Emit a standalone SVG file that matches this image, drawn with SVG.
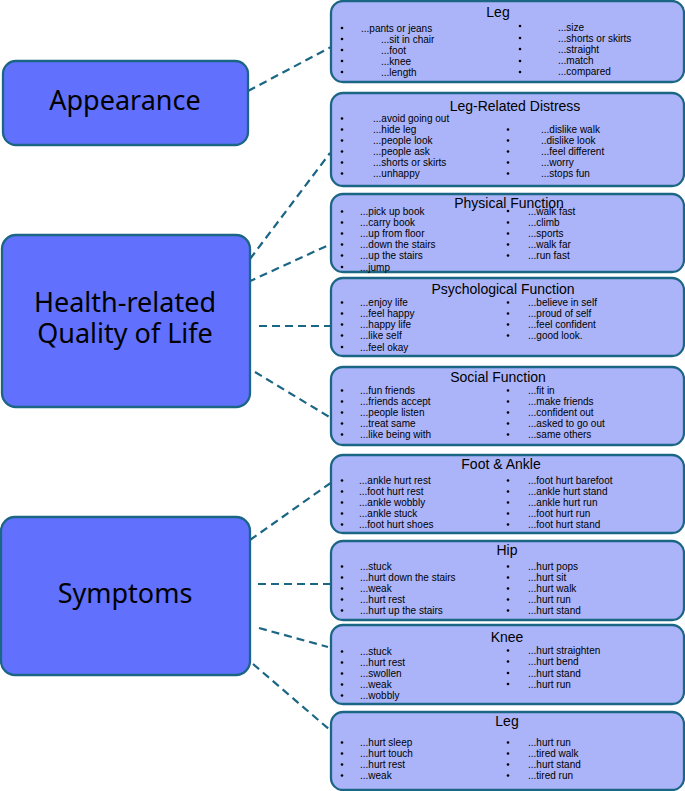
<svg xmlns="http://www.w3.org/2000/svg" width="685" height="791" viewBox="0 0 685 791">
<style>
.main{fill:#6171FE;stroke:#1B6585;stroke-width:2.3}
.sub{fill:#ABB4F9;stroke:#1B6585;stroke-width:2.3}
.big{font-family:"Noto Sans","Liberation Sans",sans-serif;font-size:27px;fill:#000;text-anchor:middle}
.ttl{font-family:"Liberation Sans",Arial,sans-serif;font-size:14px;fill:#000;text-anchor:middle}
.it{font-family:"Liberation Sans",Arial,sans-serif;font-size:10px;fill:#000}
.con line{stroke:#1B6585;stroke-width:2.2;stroke-dasharray:8 5;fill:none}
.b circle{fill:#000}
</style>
<rect width="685" height="791" fill="#fff"/>

<g id="connectors" class="con">
<line x1="248" y1="91" x2="331" y2="47"/>
<line x1="250" y1="259" x2="330" y2="153"/>
<line x1="248" y1="282" x2="331" y2="244"/>
<line x1="259" y1="326" x2="340" y2="326"/>
<line x1="255" y1="372" x2="331" y2="418"/>
<line x1="250" y1="540" x2="332" y2="482"/>
<line x1="258" y1="584" x2="340" y2="584"/>
<line x1="259" y1="628" x2="328" y2="647"/>
<line x1="253" y1="664" x2="330" y2="730"/>
</g>

<g id="appearance">
<rect class="main" x="3" y="61" width="245" height="84" rx="13"/>
<text class="big" x="125" y="110">Appearance</text>
</g>
<g id="hrqol">
<rect class="main" x="2" y="235" width="248" height="172" rx="14"/>
<text class="big" x="125" y="312">Health-related</text>
<text class="big" x="125" y="343">Quality of Life</text>
</g>
<g id="symptoms">
<rect class="main" x="1" y="517" width="249" height="158" rx="14"/>
<text class="big" x="125" y="603">Symptoms</text>
</g>

<g id="leg-appearance">
<rect class="sub" x="331" y="1" width="353" height="81" rx="12"/>
<text class="ttl" x="498" y="17">Leg</text>
<g class="b">
<circle cx="342" cy="28" r="1.3"/><circle cx="342" cy="39" r="1.3"/><circle cx="342" cy="50" r="1.3"/><circle cx="342" cy="61" r="1.3"/><circle cx="342" cy="72" r="1.3"/>
<circle cx="520" cy="26" r="1.3"/><circle cx="520" cy="38" r="1.3"/><circle cx="520" cy="49" r="1.3"/><circle cx="520" cy="61" r="1.3"/><circle cx="520" cy="72" r="1.3"/>
</g>
<text class="it" x="361" y="32">...pants or jeans</text>
<text class="it" x="381" y="43">...sit in chair</text>
<text class="it" x="381" y="54">...foot</text>
<text class="it" x="381" y="65">...knee</text>
<text class="it" x="381" y="76">...length</text>
<text class="it" x="558" y="31">...size</text>
<text class="it" x="558" y="42">...shorts or skirts</text>
<text class="it" x="558" y="53">...straight</text>
<text class="it" x="558" y="64">...match</text>
<text class="it" x="558" y="75">...compared</text>
</g>

<g id="leg-related-distress">
<rect class="sub" x="331" y="93" width="353" height="93" rx="12"/>
<text class="ttl" x="515" y="111">Leg-Related Distress</text>
<g class="b">
<circle cx="342" cy="118.5" r="1.3"/><circle cx="342" cy="129.5" r="1.3"/><circle cx="342" cy="140.5" r="1.3"/><circle cx="342" cy="151.5" r="1.3"/><circle cx="342" cy="162.5" r="1.3"/><circle cx="342" cy="173.5" r="1.3"/>
<circle cx="508" cy="129.5" r="1.3"/><circle cx="508" cy="140.5" r="1.3"/><circle cx="508" cy="151.5" r="1.3"/><circle cx="508" cy="162.5" r="1.3"/><circle cx="508" cy="173.5" r="1.3"/>
</g>
<text class="it" x="373" y="122">...avoid going out</text>
<text class="it" x="373" y="133">...hide leg</text>
<text class="it" x="373" y="144">...people look</text>
<text class="it" x="373" y="155">...people ask</text>
<text class="it" x="373" y="166">...shorts or skirts</text>
<text class="it" x="373" y="177">...unhappy</text>
<text class="it" x="541" y="133">...dislike walk</text>
<text class="it" x="541" y="144">..dislike look</text>
<text class="it" x="541" y="155">...feel different</text>
<text class="it" x="541" y="166">...worry</text>
<text class="it" x="541" y="177">...stops fun</text>
</g>

<g id="physical-function">
<rect class="sub" x="331" y="194" width="353" height="78" rx="12"/>
<text class="ttl" x="509" y="208">Physical Function</text>
<g class="b">
<circle cx="342" cy="211.5" r="1.3"/><circle cx="342" cy="222.5" r="1.3"/><circle cx="342" cy="233.5" r="1.3"/><circle cx="342" cy="244.5" r="1.3"/><circle cx="342" cy="255.5" r="1.3"/><circle cx="342" cy="267" r="1.3"/>
<circle cx="508" cy="211" r="1.3"/><circle cx="508" cy="222.5" r="1.3"/><circle cx="508" cy="233.5" r="1.3"/><circle cx="508" cy="244.5" r="1.3"/><circle cx="508" cy="255.5" r="1.3"/>
</g>
<text class="it" x="360" y="215">...pick up book</text>
<text class="it" x="360" y="226">...carry book</text>
<text class="it" x="360" y="237">...up from floor</text>
<text class="it" x="360" y="248">...down the stairs</text>
<text class="it" x="360" y="259">...up the stairs</text>
<text class="it" x="360" y="271">...jump</text>
<text class="it" x="528" y="215">...walk fast</text>
<text class="it" x="528" y="226">...climb</text>
<text class="it" x="528" y="237">...sports</text>
<text class="it" x="528" y="248">...walk far</text>
<text class="it" x="528" y="259">...run fast</text>
</g>

<g id="psychological-function">
<rect class="sub" x="331" y="278" width="353" height="78" rx="12"/>
<text class="ttl" x="503" y="294">Psychological Function</text>
<g class="b">
<circle cx="342" cy="302.5" r="1.3"/><circle cx="342" cy="313.5" r="1.3"/><circle cx="342" cy="324.5" r="1.3"/><circle cx="342" cy="335.5" r="1.3"/><circle cx="342" cy="347" r="1.3"/>
<circle cx="508" cy="302.5" r="1.3"/><circle cx="508" cy="313.5" r="1.3"/><circle cx="508" cy="324.5" r="1.3"/><circle cx="508" cy="335.5" r="1.3"/>
</g>
<text class="it" x="360" y="306">...enjoy life</text>
<text class="it" x="360" y="317">...feel happy</text>
<text class="it" x="360" y="328">...happy life</text>
<text class="it" x="360" y="339">...like self</text>
<text class="it" x="360" y="351">...feel okay</text>
<text class="it" x="528" y="306">...believe in self</text>
<text class="it" x="528" y="317">...proud of self</text>
<text class="it" x="528" y="328">...feel confident</text>
<text class="it" x="528" y="339">...good look.</text>
</g>

<g id="social-function">
<rect class="sub" x="331" y="367" width="353" height="78" rx="12"/>
<text class="ttl" x="498" y="382">Social Function</text>
<g class="b">
<circle cx="342" cy="390.5" r="1.3"/><circle cx="342" cy="401.5" r="1.3"/><circle cx="342" cy="412.5" r="1.3"/><circle cx="342" cy="423.5" r="1.3"/><circle cx="342" cy="434.5" r="1.3"/>
<circle cx="508" cy="390.5" r="1.3"/><circle cx="508" cy="401.5" r="1.3"/><circle cx="508" cy="412.5" r="1.3"/><circle cx="508" cy="423.5" r="1.3"/><circle cx="508" cy="434.5" r="1.3"/>
</g>
<text class="it" x="360" y="394">...fun friends</text>
<text class="it" x="360" y="405">...friends accept</text>
<text class="it" x="360" y="416">...people listen</text>
<text class="it" x="360" y="427">...treat same</text>
<text class="it" x="360" y="438">...like being with</text>
<text class="it" x="528" y="394">...fit in</text>
<text class="it" x="528" y="405">...make friends</text>
<text class="it" x="528" y="416">...confident out</text>
<text class="it" x="528" y="427">...asked to go out</text>
<text class="it" x="528" y="438">...same others</text>
</g>

<g id="foot-ankle">
<rect class="sub" x="331" y="455" width="353" height="78" rx="12"/>
<text class="ttl" x="501" y="469">Foot &amp; Ankle</text>
<g class="b">
<circle cx="342" cy="480.5" r="1.3"/><circle cx="342" cy="491.5" r="1.3"/><circle cx="342" cy="502.5" r="1.3"/><circle cx="342" cy="513.5" r="1.3"/><circle cx="342" cy="524.5" r="1.3"/>
<circle cx="508" cy="480.5" r="1.3"/><circle cx="508" cy="491.5" r="1.3"/><circle cx="508" cy="502.5" r="1.3"/><circle cx="508" cy="513.5" r="1.3"/><circle cx="508" cy="524.5" r="1.3"/>
</g>
<text class="it" x="359" y="484">...ankle hurt rest</text>
<text class="it" x="359" y="495">...foot hurt rest</text>
<text class="it" x="359" y="506">...ankle wobbly</text>
<text class="it" x="359" y="517">...ankle stuck</text>
<text class="it" x="359" y="528">...foot hurt shoes</text>
<text class="it" x="528" y="484">...foot hurt barefoot</text>
<text class="it" x="528" y="495">...ankle hurt stand</text>
<text class="it" x="528" y="506">...ankle hurt run</text>
<text class="it" x="528" y="517">...foot hurt run</text>
<text class="it" x="528" y="528">...foot hurt stand</text>
</g>

<g id="hip">
<rect class="sub" x="331" y="541" width="353" height="79" rx="12"/>
<text class="ttl" x="507" y="555">Hip</text>
<g class="b">
<circle cx="342" cy="566.5" r="1.3"/><circle cx="342" cy="577.5" r="1.3"/><circle cx="342" cy="588.5" r="1.3"/><circle cx="342" cy="599.5" r="1.3"/><circle cx="342" cy="610.5" r="1.3"/>
<circle cx="508" cy="566.5" r="1.3"/><circle cx="508" cy="577.5" r="1.3"/><circle cx="508" cy="588.5" r="1.3"/><circle cx="508" cy="599.5" r="1.3"/><circle cx="508" cy="610.5" r="1.3"/>
</g>
<text class="it" x="360" y="570">...stuck</text>
<text class="it" x="360" y="581">...hurt down the stairs</text>
<text class="it" x="360" y="592">...weak</text>
<text class="it" x="360" y="603">...hurt rest</text>
<text class="it" x="360" y="614">...hurt up the stairs</text>
<text class="it" x="528" y="570">...hurt pops</text>
<text class="it" x="528" y="581">...hurt sit</text>
<text class="it" x="528" y="592">...hurt walk</text>
<text class="it" x="528" y="603">...hurt run</text>
<text class="it" x="528" y="614">...hurt stand</text>
</g>

<g id="knee">
<rect class="sub" x="331" y="625" width="353" height="79" rx="12"/>
<text class="ttl" x="507" y="642">Knee</text>
<g class="b">
<circle cx="342" cy="651.5" r="1.3"/><circle cx="342" cy="662.5" r="1.3"/><circle cx="342" cy="673.5" r="1.3"/><circle cx="342" cy="684.5" r="1.3"/><circle cx="342" cy="695.5" r="1.3"/>
<circle cx="508" cy="650.5" r="1.3"/><circle cx="508" cy="661.5" r="1.3"/><circle cx="508" cy="673" r="1.3"/><circle cx="508" cy="684" r="1.3"/>
</g>
<text class="it" x="360" y="655">...stuck</text>
<text class="it" x="360" y="666">...hurt rest</text>
<text class="it" x="360" y="677">...swollen</text>
<text class="it" x="360" y="688">...weak</text>
<text class="it" x="360" y="699">...wobbly</text>
<text class="it" x="528" y="654">...hurt straighten</text>
<text class="it" x="528" y="665">...hurt bend</text>
<text class="it" x="528" y="677">...hurt stand</text>
<text class="it" x="528" y="688">...hurt run</text>
</g>

<g id="leg-symptoms">
<rect class="sub" x="331" y="712" width="353" height="78" rx="12"/>
<text class="ttl" x="507" y="726">Leg</text>
<g class="b">
<circle cx="342" cy="742.5" r="1.3"/><circle cx="342" cy="753.5" r="1.3"/><circle cx="342" cy="764.5" r="1.3"/><circle cx="342" cy="775.5" r="1.3"/>
<circle cx="508" cy="742.5" r="1.3"/><circle cx="508" cy="753.5" r="1.3"/><circle cx="508" cy="764.5" r="1.3"/><circle cx="508" cy="775.5" r="1.3"/>
</g>
<text class="it" x="360" y="746">...hurt sleep</text>
<text class="it" x="360" y="757">...hurt touch</text>
<text class="it" x="360" y="768">...hurt rest</text>
<text class="it" x="360" y="779">...weak</text>
<text class="it" x="528" y="746">...hurt run</text>
<text class="it" x="528" y="757">...tired walk</text>
<text class="it" x="528" y="768">...hurt stand</text>
<text class="it" x="528" y="779">...tired run</text>
</g>
</svg>
